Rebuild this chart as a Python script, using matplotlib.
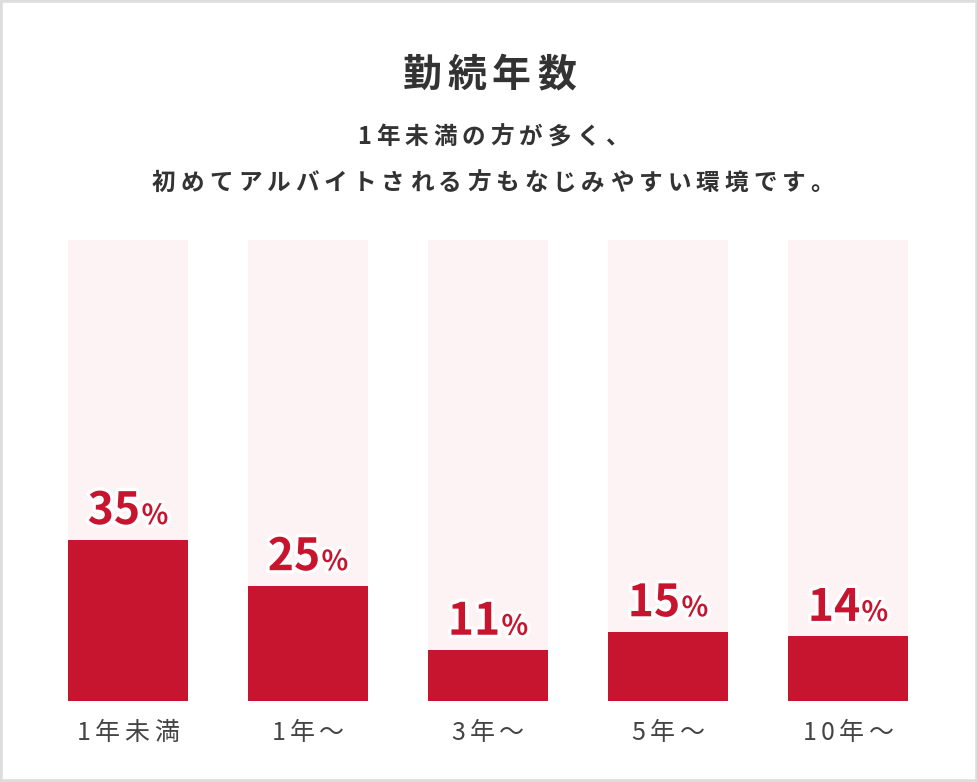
import matplotlib
matplotlib.use("Agg")
import matplotlib.pyplot as plt
import matplotlib.patheffects as pe
from matplotlib.font_manager import FontProperties
from matplotlib.offsetbox import TextArea, HPacker, AnnotationBbox
from matplotlib.patches import Rectangle

FAMILY = ['Noto Sans CJK JP', 'DejaVu Sans']
plt.rcParams['font.family'] = FAMILY

C_RED = "#c8152f"
C_BG = "#fdf2f4"
C_TEXT = "#333333"

categories = ["1年未満", "1年～", "3年～", "5年～", "10年～"]
values = [35, 25, 11, 15, 14]
title = "勤続年数"
subtitle = ["1年未満の方が多く、", "初めてアルバイトされる方もなじみやすい環境です。"]

W, H = 978, 782
fig = plt.figure(figsize=(W / 100, H / 100), dpi=100)
fig.patch.set_facecolor("white")
renderer = fig.canvas.get_renderer()


def spaced_text(cx, cy, s, size, spacing, weight="normal", color=C_TEXT):
    # draw text centred at pixel (cx, cy from top) with letter spacing in px
    fp = FontProperties(family=FAMILY, size=size, weight=weight)
    widths = [renderer.get_text_width_height_descent(ch, fp, ismath=False)[0] for ch in s]
    total = sum(widths) + spacing * (len(s) - 1)
    x = cx - total / 2
    for ch, w in zip(s, widths):
        fig.text(x / W, 1 - cy / H, ch, ha="left", va="center", fontproperties=fp, color=color)
        x += w + spacing


# axes mapped to pixel geometry: bar centers at 128 + 180*i, baseline at y=701, top at y=240
ax = fig.add_axes([0, (H - 701) / H, 1, (701 - 240) / H])
ax.set_xlim(-128 / 180, (W - 128) / 180)
ax.set_ylim(0, 100)
ax.axis("off")

xs = list(range(len(values)))
bw = 120 / 180
ax.bar(xs, [100] * len(values), width=bw, color=C_BG, zorder=1)
ax.bar(xs, values, width=bw, color=C_RED, zorder=2)

stroke = [pe.withStroke(linewidth=5, foreground="white")]
for x, v in zip(xs, values):
    num = TextArea(str(v), textprops=dict(fontsize=32, fontweight="bold", color=C_RED,
                                          family=FAMILY, path_effects=stroke))
    pct = TextArea("%", textprops=dict(fontsize=20, fontweight="bold", color=C_RED,
                                       family=FAMILY, path_effects=stroke))
    box = HPacker(children=[num, pct], align="baseline", pad=0, sep=1)
    ab = AnnotationBbox(box, (x, v), xybox=(0, 4), xycoords="data", boxcoords="offset points",
                        box_alignment=(0.5, 0), frameon=False, pad=0, zorder=3)
    ax.add_artist(ab)

for i, c in enumerate(categories):
    spaced_text(128 + 180 * i, 733, c, 18, 4.5, color="#444444")

spaced_text(W / 2, 75, title, 28, 6, weight="bold")
spaced_text(W / 2 + 4, 137, subtitle[0], 17, 5, weight="bold")
spaced_text(W / 2 + 4, 183, subtitle[1], 17, 5, weight="bold")

fig.patches.append(Rectangle((0, 0), 1, 1, transform=fig.transFigure, fill=False,
                             edgecolor="#dddddd", linewidth=4))

fig.savefig("out.png", dpi=100, facecolor="white")
